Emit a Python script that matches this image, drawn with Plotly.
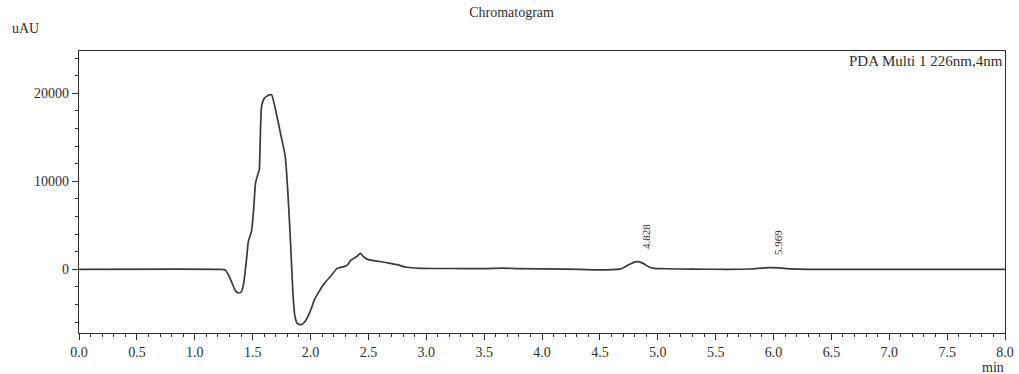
import plotly.graph_objects as go

# Retention time (min) and detector response (uAU)
time_min = [
    0.00, 1.20, 1.26, 1.29, 1.32, 1.35, 1.37, 1.40, 1.42, 1.434, 1.45, 1.463,
    1.49, 1.51, 1.525, 1.545, 1.557, 1.577, 1.60, 1.62, 1.65, 1.665, 1.705,
    1.748, 1.782, 1.805, 1.828, 1.848, 1.865, 1.885, 1.92, 1.96, 2.00, 2.033,
    2.08, 2.12, 2.18, 2.23, 2.29, 2.32, 2.347, 2.40, 2.43, 2.46, 2.50, 2.60,
    2.70, 2.75, 2.83, 2.95, 3.20, 3.50, 3.65, 3.80, 4.20, 4.45, 4.60, 4.68,
    4.74, 4.80, 4.83, 4.87, 4.92, 4.97, 5.05, 5.30, 5.60, 5.80, 5.90, 5.969,
    6.05, 6.15, 6.30, 7.00, 8.00,
]
signal_uau = [
    0, 0, -50, -600, -1500, -2400, -2650, -2600, -1800, -450, 1500, 3140,
    4300, 7000, 9770, 10800, 11300, 18480, 19400, 19650, 19850, 19800, 17700,
    15000, 12800, 8600, 2950, -2700, -5300, -6150, -6300, -5800, -4700, -3500,
    -2400, -1600, -700, 100, 300, 500, 1000, 1450, 1800, 1400, 1100, 880,
    650, 520, 230, 110, 90, 80, 130, 80, 20, -60, -40, 40,
    450, 820, 860, 700, 280, 100, 60, 10, 0, 30, 140, 190,
    150, 40, 0, -20, 0,
]

# Integrated peaks: retention time label and apex height
peak_times = [4.828, 5.969]
peak_heights = [860, 190]

x_tick_vals = [i * 0.5 for i in range(17)]
x_tick_text = [f"{v:.1f}" for v in x_tick_vals]
y_tick_vals = [0, 10000, 20000]
y_tick_text = ["0", "10000", "20000"]

SERIF = "Liberation Serif"
INK = "#2e2e2e"

W, H = 1019, 374
M_L, M_R, M_T, M_B = 79, 5, 51, 41
PLOT_W = W - M_L - M_R
PLOT_H = H - M_T - M_B


def px_to_paper(px, py):
    """Convert a page pixel position to paper coordinates."""
    return (px - M_L) / PLOT_W, (H - M_B - py) / PLOT_H


fig = go.Figure()
fig.add_trace(go.Scatter(
    x=time_min, y=signal_uau, mode="lines",
    line=dict(color="#3a3a3a", width=1.7, shape="spline", smoothing=0.6),
    showlegend=False, hoverinfo="skip",
))

for t, h in zip(peak_times, peak_heights):
    fig.add_annotation(
        x=t, y=h, xref="x", yref="y", text=f"{t:.3f}", textangle=-90,
        showarrow=False, xanchor="center", yanchor="bottom",
        xshift=8, yshift=11, font=dict(family=SERIF, size=11, color=INK),
    )

fig.add_annotation(
    x=1, y=1, xref="paper", yref="paper", text="PDA Multi 1 226nm,4nm",
    showarrow=False, xanchor="right", yanchor="top", yshift=0,
    font=dict(family=SERIF, size=15, color=INK),
)
ux, uy = px_to_paper(9, 28)
fig.add_annotation(
    x=ux, y=uy, xref="paper", yref="paper", text="uAU",
    showarrow=False, xanchor="left", yanchor="middle",
    font=dict(family=SERIF, size=14, color=INK),
)
mx, my = px_to_paper(1015, 367)
fig.add_annotation(
    x=mx, y=my, xref="paper", yref="paper", text="min",
    showarrow=False, xanchor="right", yanchor="middle",
    font=dict(family=SERIF, size=14, color=INK),
)

fig.update_layout(
    width=W, height=H,
    margin=dict(l=M_L, r=M_R, t=M_T, b=M_B),
    paper_bgcolor="white", plot_bgcolor="white",
    title=dict(
        text="Chromatogram", xref="container", yref="container",
        x=0.502, y=1 - 12 / H, xanchor="center", yanchor="middle",
        font=dict(family=SERIF, size=14, color=INK),
    ),
    font=dict(family=SERIF, size=14, color=INK),
)

fig.update_xaxes(
    range=[0, 8], tickvals=x_tick_vals, ticktext=x_tick_text,
    ticks="outside", ticklen=6, tickwidth=1.2, tickcolor=INK,
    ticklabeloverflow="allow",
    minor=dict(dtick=0.1, ticks="outside", ticklen=3, tickwidth=1, tickcolor=INK),
    showline=True, linecolor=INK, linewidth=1.3, mirror=True,
    showgrid=False, zeroline=False,
    tickfont=dict(family=SERIF, size=14, color=INK),
)
fig.update_yaxes(
    range=[-7240, 24800], tickvals=y_tick_vals, ticktext=y_tick_text,
    ticks="outside", ticklen=6, tickwidth=1.2, tickcolor=INK,
    minor=dict(dtick=2000, ticks="outside", ticklen=3, tickwidth=1, tickcolor=INK),
    showline=True, linecolor=INK, linewidth=1.3, mirror=True,
    showgrid=False, zeroline=False,
    tickfont=dict(family=SERIF, size=14, color=INK),
)

fig.write_html("out.html")
